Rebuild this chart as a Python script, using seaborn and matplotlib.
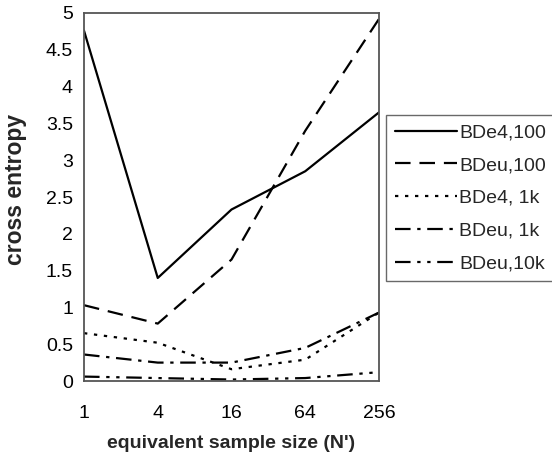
import matplotlib
matplotlib.use("Agg")
import matplotlib.pyplot as plt
import seaborn as sns
import pandas as pd

ess = [1, 4, 16, 64, 256]
series_names = ["BDe4,100", "BDeu,100", "BDe4, 1k", "BDeu, 1k", "BDeu,10k"]
bde4_100 = [4.76, 1.40, 2.33, 2.85, 3.65]
bdeu_100 = [1.03, 0.78, 1.65, 3.40, 4.92]
bde4_1k = [0.65, 0.52, 0.16, 0.29, 0.93]
bdeu_1k = [0.36, 0.25, 0.25, 0.45, 0.93]
bdeu_10k = [0.06, 0.04, 0.02, 0.04, 0.12]
y_ticks = [0, 0.5, 1, 1.5, 2, 2.5, 3, 3.5, 4, 4.5, 5]
y_tick_labels = ["0", "0.5", "1", "1.5", "2", "2.5", "3", "3.5", "4", "4.5", "5"]

rows = []
for name, vals in zip(series_names, [bde4_100, bdeu_100, bde4_1k, bdeu_1k, bdeu_10k]):
    for x, v in zip(ess, vals):
        rows.append({"ess": x, "ce": v, "series": name})
df = pd.DataFrame(rows)

sns.set_theme(style="white")
plt.rcParams["font.family"] = ["Liberation Sans", "DejaVu Sans"]

fig = plt.figure(figsize=(5.52, 4.62), dpi=100)
ax = fig.add_axes([84/552, 1-381/462, (379-84)/552, (381-13)/462])

dashes = {
    "BDe4,100": "",
    "BDeu,100": (7, 4),
    "BDe4, 1k": (1.5, 3),
    "BDeu, 1k": (7, 3, 1.5, 3),
    "BDeu,10k": (7, 3, 1.5, 3, 1.5, 3),
}
sns.lineplot(data=df, x="ess", y="ce", hue="series", style="series",
             hue_order=series_names, style_order=series_names,
             palette=["black"] * 5, dashes=dashes, linewidth=1.6,
             ax=ax, legend=True)

ax.set_xscale("log", base=4)
ax.set_xlim(1, 256)
ax.set_xticks(ess)
ax.set_xticklabels([str(v) for v in ess])
ax.minorticks_off()
ax.set_ylim(0, 5)
ax.set_yticks(y_ticks)
ax.set_yticklabels(y_tick_labels)

for s in ax.spines.values():
    s.set_color("#555555")
    s.set_linewidth(1.3)

ax.tick_params(axis="both", direction="inout", length=10, width=1,
               color="#333333", labelsize=14, labelcolor="black")
ax.tick_params(axis="x", pad=12)
ax.tick_params(axis="y", pad=3)

ax.set_xlabel("equivalent sample size (N')", fontsize=14, fontweight="bold")
ax.set_ylabel("cross entropy", fontsize=16.5, fontweight="bold")
ax.xaxis.set_label_coords(0.5, -(452 - 381) / 368, transform=ax.transAxes)
ax.xaxis.label.set_va("bottom")
ax.yaxis.set_label_coords(-(84 - 27) / 295, (381 - 189) / 368)

leg = ax.legend(loc="upper left", bbox_to_anchor=(386/552, 1-115/462),
                bbox_transform=fig.transFigure, frameon=True, fontsize=14,
                handlelength=3.2, handletextpad=0.1, borderaxespad=0,
                borderpad=0.45, labelspacing=0.78, fancybox=False)
leg.get_frame().set_edgecolor("#444444")
leg.get_frame().set_linewidth(1.0)
for line in leg.get_lines():
    line.set_linewidth(1.6)

fig.savefig("out.png", dpi=100)
